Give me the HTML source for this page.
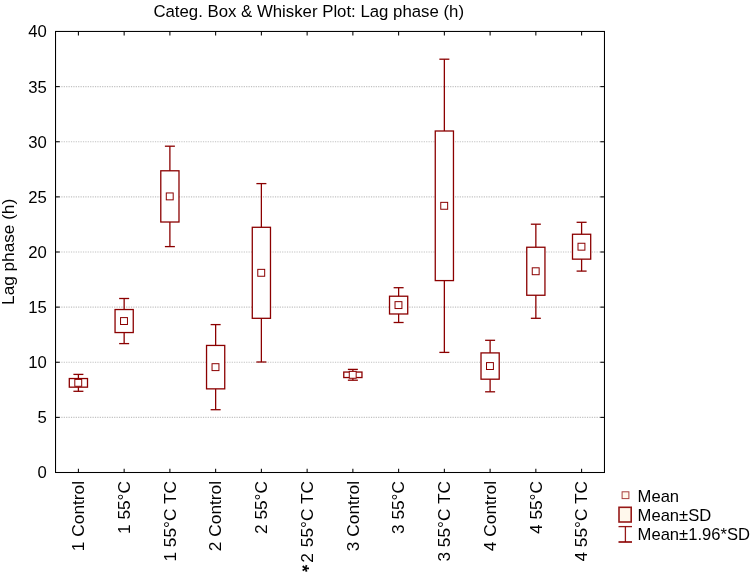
<!DOCTYPE html><html><head><meta charset="utf-8"><style>html,body{margin:0;padding:0;background:#fff;width:751px;height:573px;overflow:hidden}svg{display:block;will-change:transform}text{font-family:"Liberation Sans",sans-serif;fill:#000}</style></head><body>
<svg width="751" height="573" viewBox="0 0 751 573">
<text x="153.4" y="17" font-size="16.8">Categ. Box &amp; Whisker Plot: Lag phase (h)</text>
<line x1="56.53" y1="417.38" x2="603.47" y2="417.38" stroke="#c2c2c2" stroke-width="1.05" stroke-dasharray="1.2 1.2"/>
<line x1="56.53" y1="362.25" x2="603.47" y2="362.25" stroke="#c2c2c2" stroke-width="1.05" stroke-dasharray="1.2 1.2"/>
<line x1="56.53" y1="307.12" x2="603.47" y2="307.12" stroke="#c2c2c2" stroke-width="1.05" stroke-dasharray="1.2 1.2"/>
<line x1="56.53" y1="252.00" x2="603.47" y2="252.00" stroke="#c2c2c2" stroke-width="1.05" stroke-dasharray="1.2 1.2"/>
<line x1="56.53" y1="196.88" x2="603.47" y2="196.88" stroke="#c2c2c2" stroke-width="1.05" stroke-dasharray="1.2 1.2"/>
<line x1="56.53" y1="141.75" x2="603.47" y2="141.75" stroke="#c2c2c2" stroke-width="1.05" stroke-dasharray="1.2 1.2"/>
<line x1="56.53" y1="86.62" x2="603.47" y2="86.62" stroke="#c2c2c2" stroke-width="1.05" stroke-dasharray="1.2 1.2"/>
<g stroke="#000" stroke-width="1.05" fill="none">
<rect x="55.53" y="31.45" width="548.94" height="441.05"/>
<line x1="55.53" y1="472.50" x2="59.73" y2="472.50"/><line x1="600.27" y1="472.50" x2="604.47" y2="472.50"/>
<line x1="55.53" y1="417.38" x2="59.73" y2="417.38"/><line x1="600.27" y1="417.38" x2="604.47" y2="417.38"/>
<line x1="55.53" y1="362.25" x2="59.73" y2="362.25"/><line x1="600.27" y1="362.25" x2="604.47" y2="362.25"/>
<line x1="55.53" y1="307.12" x2="59.73" y2="307.12"/><line x1="600.27" y1="307.12" x2="604.47" y2="307.12"/>
<line x1="55.53" y1="252.00" x2="59.73" y2="252.00"/><line x1="600.27" y1="252.00" x2="604.47" y2="252.00"/>
<line x1="55.53" y1="196.88" x2="59.73" y2="196.88"/><line x1="600.27" y1="196.88" x2="604.47" y2="196.88"/>
<line x1="55.53" y1="141.75" x2="59.73" y2="141.75"/><line x1="600.27" y1="141.75" x2="604.47" y2="141.75"/>
<line x1="55.53" y1="86.62" x2="59.73" y2="86.62"/><line x1="600.27" y1="86.62" x2="604.47" y2="86.62"/>
<line x1="55.53" y1="31.50" x2="59.73" y2="31.50"/><line x1="600.27" y1="31.50" x2="604.47" y2="31.50"/>
<line x1="78.40" y1="31.45" x2="78.40" y2="35.6"/><line x1="78.40" y1="468.70" x2="78.40" y2="472.5"/>
<line x1="124.15" y1="31.45" x2="124.15" y2="35.6"/><line x1="124.15" y1="468.70" x2="124.15" y2="472.5"/>
<line x1="169.89" y1="31.45" x2="169.89" y2="35.6"/><line x1="169.89" y1="468.70" x2="169.89" y2="472.5"/>
<line x1="215.64" y1="31.45" x2="215.64" y2="35.6"/><line x1="215.64" y1="468.70" x2="215.64" y2="472.5"/>
<line x1="261.38" y1="31.45" x2="261.38" y2="35.6"/><line x1="261.38" y1="468.70" x2="261.38" y2="472.5"/>
<line x1="307.13" y1="31.45" x2="307.13" y2="35.6"/><line x1="307.13" y1="468.70" x2="307.13" y2="472.5"/>
<line x1="352.87" y1="31.45" x2="352.87" y2="35.6"/><line x1="352.87" y1="468.70" x2="352.87" y2="472.5"/>
<line x1="398.62" y1="31.45" x2="398.62" y2="35.6"/><line x1="398.62" y1="468.70" x2="398.62" y2="472.5"/>
<line x1="444.36" y1="31.45" x2="444.36" y2="35.6"/><line x1="444.36" y1="468.70" x2="444.36" y2="472.5"/>
<line x1="490.11" y1="31.45" x2="490.11" y2="35.6"/><line x1="490.11" y1="468.70" x2="490.11" y2="472.5"/>
<line x1="535.85" y1="31.45" x2="535.85" y2="35.6"/><line x1="535.85" y1="468.70" x2="535.85" y2="472.5"/>
<line x1="581.60" y1="31.45" x2="581.60" y2="35.6"/><line x1="581.60" y1="468.70" x2="581.60" y2="472.5"/>
</g>
<text x="46.9" y="478.40" font-size="16.7" text-anchor="end">0</text>
<text x="46.9" y="423.27" font-size="16.7" text-anchor="end">5</text>
<text x="46.9" y="368.15" font-size="16.7" text-anchor="end">10</text>
<text x="46.9" y="313.02" font-size="16.7" text-anchor="end">15</text>
<text x="46.9" y="257.90" font-size="16.7" text-anchor="end">20</text>
<text x="46.9" y="202.78" font-size="16.7" text-anchor="end">25</text>
<text x="46.9" y="147.65" font-size="16.7" text-anchor="end">30</text>
<text x="46.9" y="92.53" font-size="16.7" text-anchor="end">35</text>
<text x="46.9" y="37.40" font-size="16.7" text-anchor="end">40</text>
<text transform="translate(84.10,481) rotate(-90)" font-size="17.3" text-anchor="end">1 Control</text>
<text transform="translate(129.85,481) rotate(-90)" font-size="17.3" text-anchor="end">1 55°C</text>
<text transform="translate(175.59,481) rotate(-90)" font-size="17.3" text-anchor="end">1 55°C TC</text>
<text transform="translate(221.34,481) rotate(-90)" font-size="17.3" text-anchor="end">2 Control</text>
<text transform="translate(267.08,481) rotate(-90)" font-size="17.3" text-anchor="end">2 55°C</text>
<text transform="translate(296.3,568.3) rotate(90)" font-size="18.5" font-weight="bold" text-anchor="middle">*</text>
<text transform="translate(312.83,481) rotate(-90)" font-size="17.3" text-anchor="end">2<tspan dx="1.2"> 55°C TC</tspan></text>
<text transform="translate(358.57,481) rotate(-90)" font-size="17.3" text-anchor="end">3 Control</text>
<text transform="translate(404.32,481) rotate(-90)" font-size="17.3" text-anchor="end">3 55°C</text>
<text transform="translate(450.06,481) rotate(-90)" font-size="17.3" text-anchor="end">3 55°C TC</text>
<text transform="translate(495.81,481) rotate(-90)" font-size="17.3" text-anchor="end">4 Control</text>
<text transform="translate(541.55,481) rotate(-90)" font-size="17.3" text-anchor="end">4 55°C</text>
<text transform="translate(587.30,481) rotate(-90)" font-size="17.3" text-anchor="end">4 55°C TC</text>
<g stroke="#8b0000" stroke-width="1.3" fill="none"><line x1="78.40" y1="374.40" x2="78.40" y2="391.30"/><line x1="73.40" y1="374.40" x2="83.40" y2="374.40"/><line x1="73.40" y1="391.30" x2="83.40" y2="391.30"/><rect x="69.30" y="378.54" width="18.20" height="8.62" fill="#fff"/><rect x="74.80" y="379.40" width="6.90" height="6.90" fill="#fff" stroke-width="1"/></g>
<g stroke="#8b0000" stroke-width="1.3" fill="none"><line x1="124.15" y1="298.50" x2="124.15" y2="343.60"/><line x1="119.15" y1="298.50" x2="129.15" y2="298.50"/><line x1="119.15" y1="343.60" x2="129.15" y2="343.60"/><rect x="115.05" y="309.54" width="18.20" height="23.01" fill="#fff"/><rect x="120.55" y="317.60" width="6.90" height="6.90" fill="#fff" stroke-width="1"/></g>
<g stroke="#8b0000" stroke-width="1.3" fill="none"><line x1="169.89" y1="146.20" x2="169.89" y2="246.60"/><line x1="164.89" y1="146.20" x2="174.89" y2="146.20"/><line x1="164.89" y1="246.60" x2="174.89" y2="246.60"/><rect x="160.79" y="170.79" width="18.20" height="51.22" fill="#fff"/><rect x="166.29" y="192.95" width="6.90" height="6.90" fill="#fff" stroke-width="1"/></g>
<g stroke="#8b0000" stroke-width="1.3" fill="none"><line x1="215.64" y1="324.60" x2="215.64" y2="409.70"/><line x1="210.64" y1="324.60" x2="220.64" y2="324.60"/><line x1="210.64" y1="409.70" x2="220.64" y2="409.70"/><rect x="206.54" y="345.44" width="18.20" height="43.42" fill="#fff"/><rect x="212.04" y="363.70" width="6.90" height="6.90" fill="#fff" stroke-width="1"/></g>
<g stroke="#8b0000" stroke-width="1.3" fill="none"><line x1="261.38" y1="183.60" x2="261.38" y2="362.00"/><line x1="256.38" y1="183.60" x2="266.38" y2="183.60"/><line x1="256.38" y1="362.00" x2="266.38" y2="362.00"/><rect x="252.28" y="227.29" width="18.20" height="91.02" fill="#fff"/><rect x="257.78" y="269.35" width="6.90" height="6.90" fill="#fff" stroke-width="1"/></g>
<g stroke="#8b0000" stroke-width="1.3" fill="none"><line x1="352.87" y1="369.40" x2="352.87" y2="380.20"/><line x1="347.87" y1="369.40" x2="357.87" y2="369.40"/><line x1="347.87" y1="380.20" x2="357.87" y2="380.20"/><rect x="343.77" y="372.04" width="18.20" height="5.51" fill="#fff"/><rect x="349.27" y="371.35" width="6.90" height="6.90" fill="#fff" stroke-width="1"/></g>
<g stroke="#8b0000" stroke-width="1.3" fill="none"><line x1="398.62" y1="287.70" x2="398.62" y2="322.50"/><line x1="393.62" y1="287.70" x2="403.62" y2="287.70"/><line x1="393.62" y1="322.50" x2="403.62" y2="322.50"/><rect x="389.52" y="296.22" width="18.20" height="17.76" fill="#fff"/><rect x="395.02" y="301.65" width="6.90" height="6.90" fill="#fff" stroke-width="1"/></g>
<g stroke="#8b0000" stroke-width="1.3" fill="none"><line x1="444.36" y1="59.20" x2="444.36" y2="352.40"/><line x1="439.36" y1="59.20" x2="449.36" y2="59.20"/><line x1="439.36" y1="352.40" x2="449.36" y2="352.40"/><rect x="435.26" y="131.00" width="18.20" height="149.59" fill="#fff"/><rect x="440.76" y="202.35" width="6.90" height="6.90" fill="#fff" stroke-width="1"/></g>
<g stroke="#8b0000" stroke-width="1.3" fill="none"><line x1="490.11" y1="340.30" x2="490.11" y2="391.80"/><line x1="485.11" y1="340.30" x2="495.11" y2="340.30"/><line x1="485.11" y1="391.80" x2="495.11" y2="391.80"/><rect x="481.01" y="352.91" width="18.20" height="26.28" fill="#fff"/><rect x="486.51" y="362.60" width="6.90" height="6.90" fill="#fff" stroke-width="1"/></g>
<g stroke="#8b0000" stroke-width="1.3" fill="none"><line x1="535.85" y1="224.20" x2="535.85" y2="318.30"/><line x1="530.85" y1="224.20" x2="540.85" y2="224.20"/><line x1="530.85" y1="318.30" x2="540.85" y2="318.30"/><rect x="526.75" y="247.24" width="18.20" height="48.01" fill="#fff"/><rect x="532.25" y="267.80" width="6.90" height="6.90" fill="#fff" stroke-width="1"/></g>
<g stroke="#8b0000" stroke-width="1.3" fill="none"><line x1="581.60" y1="222.30" x2="581.60" y2="271.10"/><line x1="576.60" y1="222.30" x2="586.60" y2="222.30"/><line x1="576.60" y1="271.10" x2="586.60" y2="271.10"/><rect x="572.50" y="234.25" width="18.20" height="24.90" fill="#fff"/><rect x="578.00" y="243.25" width="6.90" height="6.90" fill="#fff" stroke-width="1"/></g>
<g stroke="#8b0000" fill="#fff8ec">
<rect x="622.1" y="491.8" width="6.8" height="6.8" stroke-width="1" stroke-opacity="0.75"/>
<rect x="619.0" y="507.3" width="12.2" height="14.7" stroke-width="1.6" stroke-opacity="0.9"/>
</g>
<g stroke="#8b0000" stroke-width="1.3" fill="none" stroke-opacity="0.9"><line x1="618.5" y1="526.6" x2="632" y2="526.6"/><line x1="625.4" y1="526.6" x2="625.4" y2="542"/><line x1="618.5" y1="542" x2="632" y2="542" stroke-width="1.8"/></g>
<text x="637.6" y="501.6" font-size="16.6">Mean</text>
<text x="637.6" y="520.9" font-size="16.6">Mean±SD</text>
<text x="637.6" y="540.3" font-size="16.6">Mean±1.96*SD</text>
<text transform="translate(14.4,251.9) rotate(-90)" font-size="17.2" text-anchor="middle">Lag phase (h)</text>
</svg></body></html>
